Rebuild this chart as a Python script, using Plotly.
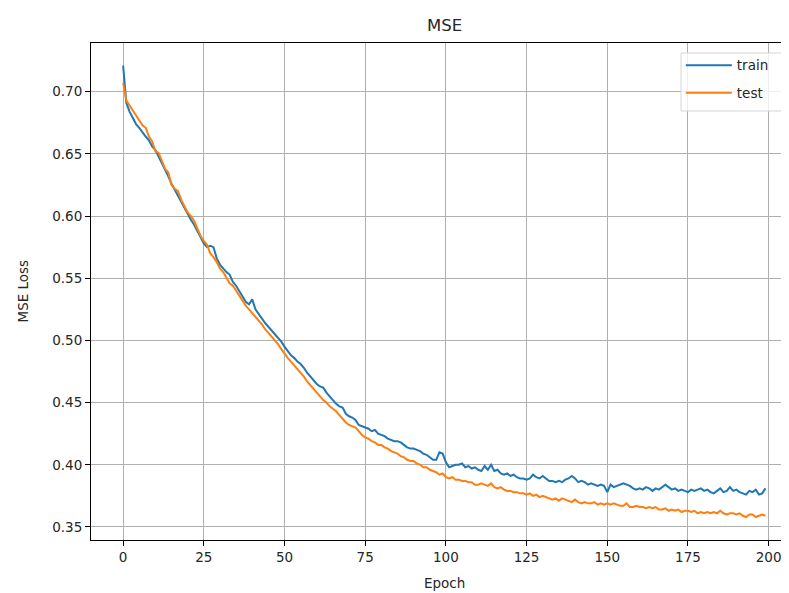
import plotly.graph_objects as go

epochs = list(range(200))

train_mse = [
    0.721, 0.691, 0.684, 0.679, 0.674, 0.671, 0.667, 0.664, 0.661, 0.656,
    0.653, 0.648, 0.643, 0.638, 0.632, 0.626, 0.621, 0.617, 0.612, 0.606,
    0.601, 0.597, 0.593, 0.588, 0.583, 0.578, 0.575, 0.576, 0.575, 0.566,
    0.561, 0.558, 0.555, 0.553, 0.547, 0.544, 0.540, 0.536, 0.531, 0.529,
    0.533, 0.525, 0.521, 0.518, 0.514, 0.511, 0.508, 0.505, 0.502, 0.499,
    0.495, 0.491, 0.488, 0.486, 0.483, 0.481, 0.478, 0.474, 0.471, 0.468,
    0.465, 0.463, 0.462, 0.458, 0.455, 0.452, 0.449, 0.447, 0.446, 0.441,
    0.439, 0.438, 0.436, 0.432, 0.431, 0.430, 0.429, 0.427, 0.428, 0.425,
    0.424, 0.423, 0.421, 0.420, 0.419, 0.419, 0.418, 0.416, 0.414, 0.413,
    0.413, 0.412, 0.411, 0.409, 0.408, 0.406, 0.404, 0.404, 0.410, 0.409,
    0.402, 0.398, 0.399, 0.400, 0.400, 0.401, 0.398, 0.399, 0.397, 0.398,
    0.396, 0.395, 0.399, 0.396, 0.400, 0.395, 0.396, 0.393, 0.392, 0.393,
    0.391, 0.392, 0.390, 0.389, 0.389, 0.388, 0.389, 0.392, 0.390, 0.389,
    0.391, 0.389, 0.387, 0.387, 0.386, 0.387, 0.386, 0.388, 0.389, 0.391,
    0.389, 0.386, 0.387, 0.386, 0.384, 0.385, 0.384, 0.383, 0.384, 0.383,
    0.378, 0.384, 0.382, 0.383, 0.384, 0.385, 0.384, 0.383, 0.381, 0.380,
    0.381, 0.380, 0.382, 0.381, 0.379, 0.381, 0.380, 0.382, 0.384, 0.382,
    0.380, 0.381, 0.379, 0.380, 0.379, 0.378, 0.380, 0.379, 0.380, 0.381,
    0.379, 0.380, 0.378, 0.377, 0.379, 0.381, 0.378, 0.379, 0.382, 0.379,
    0.380, 0.378, 0.377, 0.376, 0.379, 0.378, 0.380, 0.376, 0.377, 0.381,
]

test_mse = [
    0.707, 0.693, 0.689, 0.685, 0.680, 0.677, 0.673, 0.671, 0.664, 0.660,
    0.652, 0.651, 0.645, 0.638, 0.635, 0.625, 0.622, 0.620, 0.613, 0.608,
    0.603, 0.600, 0.596, 0.590, 0.584, 0.580, 0.577, 0.570, 0.567, 0.563,
    0.558, 0.555, 0.551, 0.546, 0.544, 0.540, 0.535, 0.532, 0.528, 0.525,
    0.522, 0.519, 0.516, 0.513, 0.509, 0.506, 0.503, 0.500, 0.497, 0.493,
    0.489, 0.486, 0.483, 0.480, 0.477, 0.474, 0.471, 0.467, 0.464, 0.461,
    0.458, 0.455, 0.452, 0.450, 0.447, 0.445, 0.443, 0.440, 0.437, 0.434,
    0.432, 0.431, 0.430, 0.427, 0.424, 0.422, 0.421, 0.419, 0.418, 0.416,
    0.416, 0.414, 0.413, 0.411, 0.410, 0.409, 0.407, 0.406, 0.404, 0.403,
    0.403, 0.401, 0.400, 0.398, 0.398, 0.396, 0.395, 0.394, 0.392, 0.393,
    0.390, 0.389, 0.390, 0.388, 0.388, 0.387, 0.387, 0.386, 0.386, 0.384,
    0.384, 0.385, 0.384, 0.383, 0.385, 0.382, 0.381, 0.382, 0.380, 0.379,
    0.379, 0.378, 0.378, 0.377, 0.377, 0.376, 0.377, 0.375, 0.376, 0.374,
    0.375, 0.374, 0.373, 0.372, 0.373, 0.371, 0.373, 0.372, 0.371, 0.370,
    0.372, 0.370, 0.369, 0.370, 0.369, 0.369, 0.370, 0.368, 0.369, 0.368,
    0.369, 0.368, 0.369, 0.368, 0.367, 0.367, 0.369, 0.366, 0.366, 0.367,
    0.366, 0.366, 0.365, 0.366, 0.365, 0.366, 0.364, 0.364, 0.365, 0.363,
    0.364, 0.363, 0.364, 0.362, 0.363, 0.363, 0.362, 0.363, 0.361, 0.362,
    0.361, 0.362, 0.361, 0.362, 0.361, 0.363, 0.361, 0.360, 0.361, 0.361,
    0.360, 0.361, 0.359, 0.358, 0.360, 0.360, 0.358, 0.359, 0.360, 0.359,
]

x_ticks = [0, 25, 50, 75, 100, 125, 150, 175, 200]
y_ticks = [0.35, 0.40, 0.45, 0.50, 0.55, 0.60, 0.65, 0.70]

FONT = "DejaVu Sans"

fig = go.Figure()
fig.add_trace(go.Scatter(x=epochs, y=train_mse, mode="lines", name="train",
                         legendgroup="a",
                         line=dict(color="#1f77b4", width=2)))
fig.add_trace(go.Scatter(x=epochs, y=test_mse, mode="lines", name="test",
                         legendgroup="b",
                         line=dict(color="#ff7f0e", width=2)))

axis_common = dict(
    showgrid=True, gridcolor="#b0b0b0", gridwidth=1,
    showline=True, linecolor="black", linewidth=1, mirror=True,
    ticks="outside", ticklen=5, tickwidth=1, tickcolor="black",
    zeroline=False, tickfont=dict(family=FONT, size=13.5, color="#262626"),
)

# page body has an 8px default margin: size the figure so it ends at the window edge
fig.update_layout(
    width=781, height=585,
    margin=dict(l=83, r=0, t=35, b=53),
    paper_bgcolor="white", plot_bgcolor="white",
    font=dict(family=FONT, color="#262626"),
    showlegend=True,
    legend=dict(x=0.845, y=0.986, xanchor="left", yanchor="top",
                bgcolor="rgba(0,0,0,0)", borderwidth=0,
                tracegroupgap=7, traceorder="grouped", itemwidth=46,
                font=dict(family=FONT, size=13.5, color="#262626")),
    xaxis=dict(range=[-9.95, 206.3], tickvals=x_ticks, **axis_common),
    yaxis=dict(range=[0.3395, 0.7392], tickvals=y_ticks, tickformat=".2f", **axis_common),
    shapes=[
        # legend frame (matplotlib-style translucent white box)
        dict(type="rect", xref="paper", yref="paper",
             x0=0.8453, x1=0.9986, y0=0.8632, y1=0.9799, layer="above",
             fillcolor="rgba(255,255,255,0.8)", line=dict(color="#d5d5d5", width=1)),
    ],
    annotations=[
        dict(text="MSE", xref="x", yref="paper", x=99.5, y=1, yshift=18,
             showarrow=False, font=dict(family=FONT, size=16.5, color="#262626"),
             xanchor="center", yanchor="middle"),
        dict(text="Epoch", xref="x", yref="paper", x=99.5, y=0, yshift=-43,
             showarrow=False, font=dict(family=FONT, size=13.5, color="#262626"),
             xanchor="center", yanchor="middle"),
        dict(text="MSE Loss", xref="paper", yref="paper", x=0, y=0.5, xshift=-69,
             textangle=-90, showarrow=False,
             font=dict(family=FONT, size=13.5, color="#262626"),
             xanchor="center", yanchor="middle"),
    ],
)

fig.write_html("out.html")
